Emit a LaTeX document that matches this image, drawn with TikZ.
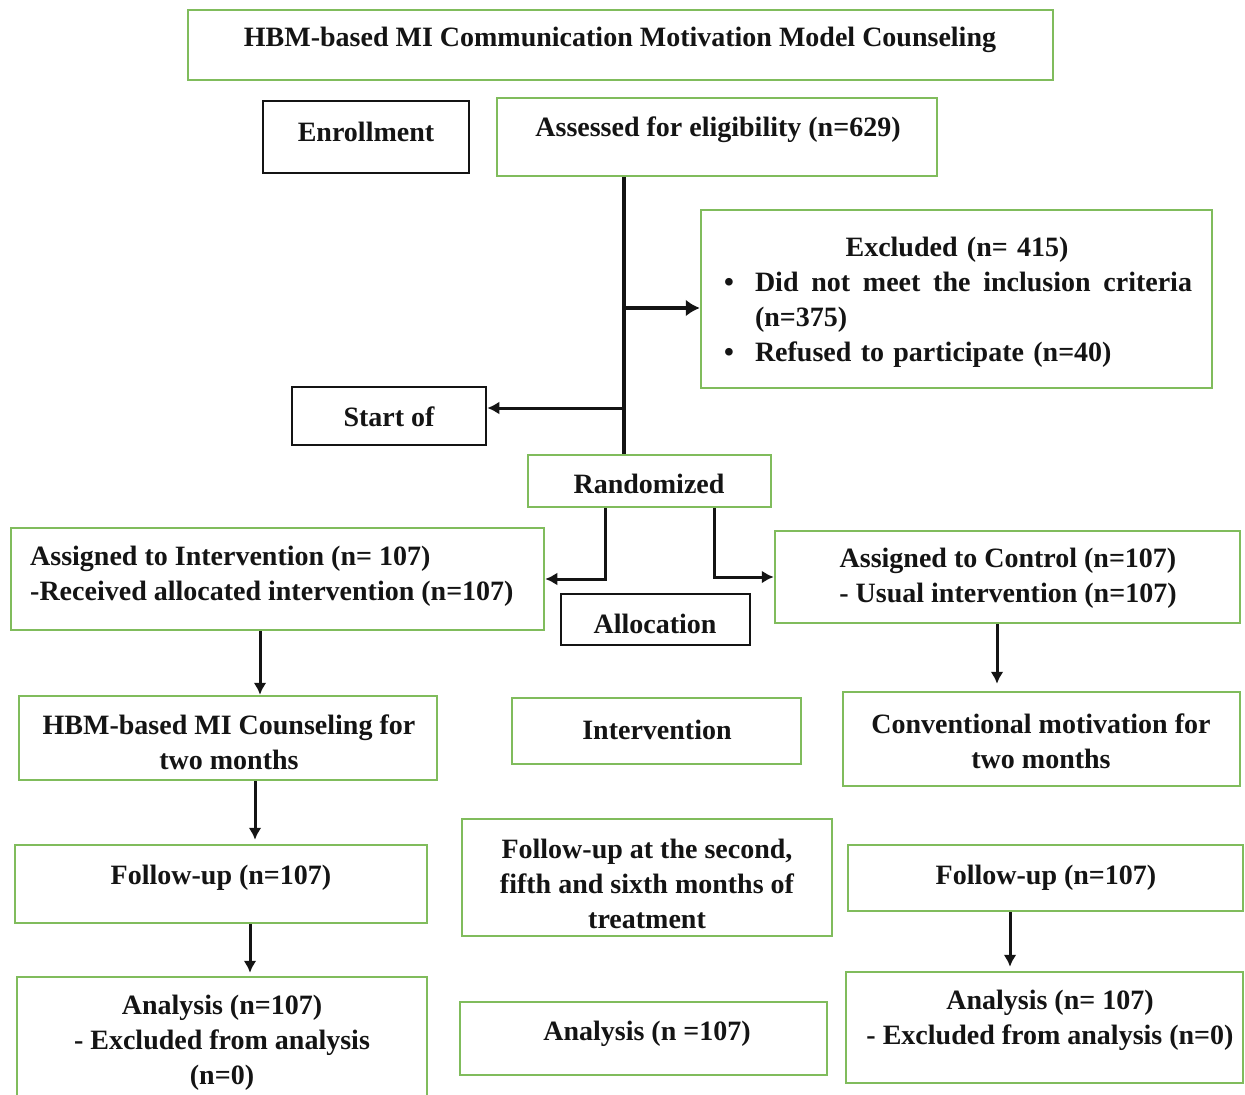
\documentclass[tikz,border=0pt]{standalone}
\usepackage{fontspec}
\setmainfont{Liberation Serif}
\usetikzlibrary{arrows.meta,calc}
\definecolor{grn}{RGB}{128,188,92}
\definecolor{ink}{RGB}{20,20,20}
\begin{document}
\begin{tikzpicture}[x=1pt,y=-1pt,
  gbox/.style={draw=grn, line width=2.5pt, inner sep=0, fill=white},
  kbox/.style={draw=ink, line width=2.6pt, inner sep=0, fill=white},
  txt/.style={font=\fontsize{28}{35}\selectfont\bfseries, text=ink, inner sep=0, align=center},
  trunk/.style={draw=ink, line width=4pt},
  arrbig/.style={draw=ink, line width=4.5pt, -{Latex[length=14pt,width=17pt]}},
  arr/.style={draw=ink, line width=3pt, -{Latex[length=12pt,width=13pt]}}
]
\useasboundingbox (0,0) rectangle (1245,1095);
\clip (0,0) rectangle (1245,1095);
% boxes
\node[gbox, minimum width=865, minimum height=70] (title) at (620.5,45) {};
\node[kbox, minimum width=206, minimum height=72] (enroll) at (366,137) {};
\node[gbox, minimum width=440, minimum height=78] (assess) at (717,137) {};
\node[gbox, minimum width=511, minimum height=178] (excl) at (956.5,299) {};
\node[kbox, minimum width=194, minimum height=58] (start) at (389,416) {};
\node[gbox, minimum width=243, minimum height=52] (rand) at (649.5,481) {};
\node[gbox, minimum width=533, minimum height=102] (asgI) at (277.5,579) {};
\node[gbox, minimum width=465, minimum height=92] (asgC) at (1007.5,577) {};
\node[kbox, minimum width=189, minimum height=51] (alloc) at (655.5,619.5) {};
\node[gbox, minimum width=418, minimum height=84] (hbm) at (228,738) {};
\node[gbox, minimum width=289, minimum height=66] (interv) at (656.5,731) {};
\node[gbox, minimum width=397, minimum height=94] (conv) at (1041.5,739) {};
\node[gbox, minimum width=412, minimum height=78] (fuL) at (221,884) {};
\node[gbox, minimum width=370, minimum height=117] (fuM) at (647,877.5) {};
\node[gbox, minimum width=395, minimum height=66] (fuR) at (1045.5,878) {};
\node[gbox, minimum width=410, minimum height=133] (anL) at (222,1043.5) {};
\node[gbox, minimum width=367, minimum height=73] (anM) at (643.5,1038.5) {};
\node[gbox, minimum width=397, minimum height=111] (anR) at (1044.5,1027.5) {};
% texts
\node[txt] (titleT) at (620,40) {HBM-based MI Communication Motivation Model Counseling};
\node[txt] (enrollT) at (366,132) {Enrollment};
\node[txt] (assessT) at (718,130) {Assessed for eligibility (n=629)};
\node[txt, text width=437pt, align=left] (exclT) at (973.5,302) {%
  \makebox[437pt][c]{\hspace*{-33pt}Excluded (n= 415)}\\
  \leavevmode\llap{\textbullet\hspace{21pt}}\makebox[437pt][l]{Did\hfill not\hfill meet\hfill the\hfill inclusion\hfill criteria}\\
  (n=375)\\
  \leavevmode\llap{\textbullet\hspace{21pt}}Refused to participate (n=40)};
\node[txt] (startT) at (389,417) {Start of};
\node[txt] (randT) at (649,484) {Randomized};
\node[txt, align=left, anchor=west] (asgIT) at (30,576) {Assigned to Intervention (n= 107)\\-Received allocated intervention (n=107)};
\node[txt] (asgCT) at (1008,578) {Assigned to Control (n=107)\\- Usual intervention (n=107)};
\node[txt] (allocT) at (655,624) {Allocation};
\node[txt] (hbmT) at (229,742) {HBM-based MI Counseling for\\two months};
\node[txt] (intervT) at (657,730) {Intervention};
\node[txt] (convT) at (1041,741) {Conventional motivation for\\two months};
\node[txt] (fuLT) at (221,878) {Follow-up (n=107)};
\node[txt] (fuMT) at (647,884) {Follow-up at the second,\\fifth and sixth months of\\treatment};
\node[txt] (fuRT) at (1046,878) {Follow-up (n=107)};
\node[txt] (anLT) at (222,1043) {Analysis (n=107)\\- Excluded from analysis\\(n=0)};
\node[txt] (anMT) at (647,1034) {Analysis (n =107)};
\node[txt] (anRT) at (1050,1020) {Analysis (n= 107)\\- Excluded from analysis (n=0)};
% coordinates
\coordinate (tx) at (624,0);
\coordinate (exA) at (624,308);
\coordinate (stA) at (622,408);
\coordinate (rl) at (605,0);
\coordinate (rr) at (714,0);
\coordinate (c1) at (260,0);
\coordinate (c2) at (255,0);
\coordinate (c3) at (250,0);
\coordinate (c4) at (997,0);
\coordinate (c5) at (1010,0);
% connectors
\draw[trunk] (assess.south -| tx) -- (rand.north -| tx);
\draw[arrbig] (exA) -- (exA -| excl.west);
\draw[arr] (stA) -- (stA -| start.east);
\draw[arr] (rand.south -| rl) |- (asgI.east);
\draw[arr] (rand.south -| rr) |- (asgC.west);
\draw[arr] (asgI.south -| c1) -- (hbm.north -| c1);
\draw[arr, shorten >=4pt] (hbm.south -| c2) -- (fuL.north -| c2);
\draw[arr, shorten >=3pt] (fuL.south -| c3) -- (anL.north -| c3);
\draw[arr, shorten >=7pt] (asgC.south -| c4) -- (conv.north -| c4);
\draw[arr, shorten >=4pt] (fuR.south -| c5) -- (anR.north -| c5);
\end{tikzpicture}
\end{document}
